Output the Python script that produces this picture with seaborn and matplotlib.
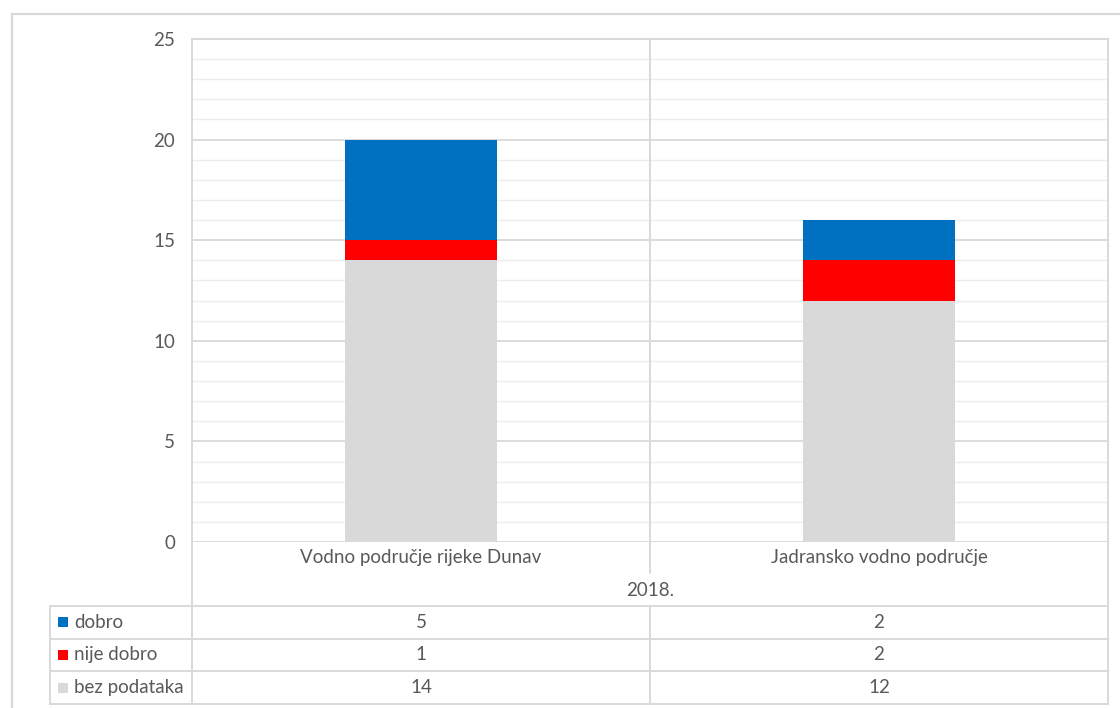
import matplotlib
matplotlib.use("Agg")
import matplotlib.pyplot as plt
import matplotlib.transforms as mtransforms
from matplotlib.patches import Rectangle
import seaborn as sns
import pandas as pd

categories = ["Vodno područje rijeke Dunav", "Jadransko vodno područje"]
group_label = "2018."
series_names = ["dobro", "nije dobro", "bez podataka"]
dobro = [5, 2]
nije_dobro = [1, 2]
bez_podataka = [14, 12]
yticks = [0, 5, 10, 15, 20, 25]

colors = {"dobro": "#0070C0", "nije dobro": "#FF0000", "bez podataka": "#D9D9D9"}
txt = "#595959"
grid_major = "#D9D9D9"
grid_minor = "#EDEDED"
FS = 13.5

sns.set_theme(style="white")
plt.rcParams["font.family"] = ["Lato", "DejaVu Sans"]

W, H = 1120, 708
fig = plt.figure(figsize=(W / 100, H / 100), dpi=100)

# pixel layout
px_l, px_r, px_t, px_b = 192, 1108, 39, 542
ax = fig.add_axes([px_l / W, 1 - px_b / H, (px_r - px_l) / W, (px_b - px_t) / H])

df = pd.DataFrame({"cat": categories, "dobro": dobro, "nije dobro": nije_dobro,
                   "bez podataka": bez_podataka})
df["b2"] = df["bez podataka"]
df["b3"] = df["bez podataka"] + df["nije dobro"]

sns.barplot(data=df, x="cat", y="bez podataka", color=colors["bez podataka"],
            width=0.33, ax=ax, saturation=1, order=categories)
sns.barplot(data=df, x="cat", y="nije dobro", bottom=df["b2"], color=colors["nije dobro"],
            width=0.33, ax=ax, saturation=1, order=categories)
sns.barplot(data=df, x="cat", y="dobro", bottom=df["b3"], color=colors["dobro"],
            width=0.33, ax=ax, saturation=1, order=categories)

ax.set_xlim(-0.5, len(categories) - 0.5)
ax.set_ylim(0, 25)
ax.set_yticks(yticks)
ax.grid(False)
for v in range(0, 26):
    ax.axhline(v, color=grid_major if v % 5 == 0 else grid_minor,
               lw=1.3 if v % 5 == 0 else 1.0, zorder=0)
for b in ax.patches:
    b.set_zorder(2)
    b.set_edgecolor("none")
ax.set_xlabel("")
ax.set_ylabel("")
ax.set_xticklabels([])
ax.tick_params(axis="both", length=0)
ax.tick_params(axis="y", labelsize=FS, labelcolor=txt, pad=12)
for s in ax.spines.values():
    s.set_visible(False)

# overlays in pixel coordinates
ov = fig.add_axes([0, 0, 1, 1], zorder=-1)
ov.set_xlim(0, W)
ov.set_ylim(H, 0)
ov.axis("off")
ov.patch.set_alpha(0)
ov2 = fig.add_axes([0, 0, 1, 1], zorder=5)
ov2.set_xlim(0, W)
ov2.set_ylim(H, 0)
ov2.axis("off")
ov2.patch.set_alpha(0)

lc = "#D9D9D9"
lw = 1.4
# outer chart border
ov.plot([12, 12], [14, H], color=lc, lw=1.6)
ov.plot([12, W], [14, 14], color=lc, lw=1.6)

# plot area borders
ov2.plot([px_l, px_r], [px_t, px_t], color=lc, lw=lw)
ov2.plot([px_l, px_l], [px_t, 704], color=lc, lw=lw)
ov2.plot([px_r, px_r], [px_t, 704], color=lc, lw=lw)

blend = mtransforms.blended_transform_factory(ax.transData, ov2.transData)
# category dividers
for i in range(1, len(categories)):
    ov2.plot([i - 0.5, i - 0.5], [px_t, 573], color=lc, lw=lw, transform=blend)
    ov2.plot([i - 0.5, i - 0.5], [606, 704], color=lc, lw=lw, transform=blend)

# category labels
for i, c in enumerate(categories):
    ov2.text(i, 558, c, transform=blend, ha="center", va="center", fontsize=FS, color=txt)
ov2.text(len(categories) / 2 - 0.5, 591, group_label, transform=blend, ha="center",
         va="center", fontsize=FS, color=txt)

# data table
row_edges = [606, 638.5, 671, 704]
for y in row_edges:
    ov2.plot([50, px_r], [y, y], color=lc, lw=lw)
ov2.plot([50, 50], [606, 704], color=lc, lw=lw)

table_vals = {"dobro": dobro, "nije dobro": nije_dobro, "bez podataka": bez_podataka}
for r, name in enumerate(series_names):
    yc = (row_edges[r] + row_edges[r + 1]) / 2
    ov2.add_patch(Rectangle((58, yc - 5), 10, 10, facecolor=colors[name], edgecolor="none"))
    ov2.text(74, yc, name, ha="left", va="center", fontsize=FS, color=txt)
    for i, v in enumerate(table_vals[name]):
        ov2.text(i, yc, str(v), transform=blend, ha="center", va="center", fontsize=FS, color=txt)

fig.savefig("out.png", dpi=100, facecolor="white")
